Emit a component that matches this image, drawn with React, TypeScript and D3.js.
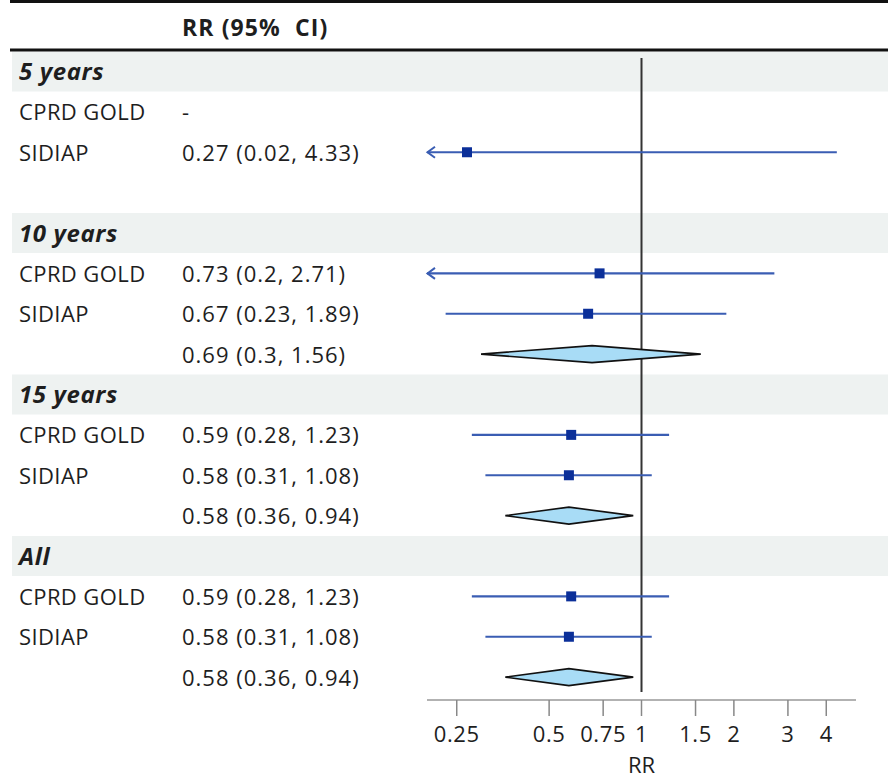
import React from "react";
import * as d3 from "d3";

const rowLabels = ["5 years", "CPRD GOLD", "SIDIAP", "", "10 years", "CPRD GOLD", "SIDIAP", "", "15 years", "CPRD GOLD", "SIDIAP", "", "All", "CPRD GOLD", "SIDIAP", ""];
const rowTypes = ["group", "study", "study", "blank", "group", "study", "study", "pooled", "group", "study", "study", "pooled", "group", "study", "study", "pooled"];
const rrText = ["", "-", "0.27 (0.02, 4.33)", "", "", "0.73 (0.2, 2.71)", "0.67 (0.23, 1.89)", "0.69 (0.3, 1.56)", "", "0.59 (0.28, 1.23)", "0.58 (0.31, 1.08)", "0.58 (0.36, 0.94)", "", "0.59 (0.28, 1.23)", "0.58 (0.31, 1.08)", "0.58 (0.36, 0.94)"];
const est = [NaN, NaN, 0.27, NaN, NaN, 0.73, 0.67, 0.69, NaN, 0.59, 0.58, 0.58, NaN, 0.59, 0.58, 0.58];
const lower = [NaN, NaN, 0.02, NaN, NaN, 0.2, 0.23, 0.3, NaN, 0.28, 0.31, 0.36, NaN, 0.28, 0.31, 0.36];
const upper = [NaN, NaN, 4.33, NaN, NaN, 2.71, 1.89, 1.56, NaN, 1.23, 1.08, 0.94, NaN, 1.23, 1.08, 0.94];
const tickValues = [0.25, 0.5, 0.75, 1, 1.5, 2, 3, 4];
const tickLabels = ["0.25", "0.5", "0.75", "1", "1.5", "2", "3", "4"];
const axisDomain = [0.2, 5];

const W = 888;
const H = 780;
const FONT = "'Open Sans', 'DejaVu Sans', sans-serif";

export default function App() {
  const x = d3.scaleLog().domain(axisDomain).range([427, 856]);
  const y = d3.scaleLinear().domain([0, 15]).range([71.5, 71.5 + 15 * 40.375]);
  const axisY = 700;
  const refX = x(1);
  const halfRow = 20;
  const textColor = "#1e1e1e";
  const lineBlue = "#3a5db3";
  const boxBlue = "#0b2f99";

  const diamond = d3.line<[number, number]>();

  return (
    <svg width={W} height={H} style={{ position: "absolute", left: 0, top: 0, background: "#fff" }} fontFamily={FONT}>
      {rowTypes.map((t, i) =>
        t === "group" ? (
          <rect key={"b" + i} x={12} y={y(i) - halfRow} width={W - 12} height={halfRow * 2} fill="#eef2f1" />
        ) : null
      )}
      <line x1={10} x2={W} y1={1.5} y2={1.5} stroke="#111" strokeWidth={3} />
      <line x1={10} x2={W} y1={50} y2={50} stroke="#111" strokeWidth={3} />
      <text x={182} y={36} fontSize={23} fontWeight="bold" fill={textColor} letterSpacing={1.1} style={{ whiteSpace: "pre" }}>
        {"RR (95%  CI)"}
      </text>

      <line x1={refX} x2={refX} y1={58} y2={692} stroke="#333" strokeWidth={2} />

      {rowLabels.map((lab, i) => {
        const cy = y(i);
        if (rowTypes[i] === "group") {
          return (
            <text key={"g" + i} x={19} y={cy + 8.5} fontSize={24} fontWeight="bold" fontStyle="italic" fill={textColor} letterSpacing={0.6}>
              {lab}
            </text>
          );
        }
        return (
          <g key={"r" + i}>
            {lab ? (
              <text x={19} y={cy + 8.5} fontSize={22} fill={textColor} letterSpacing={0.4}>
                {lab}
              </text>
            ) : null}
            {rrText[i] ? (
              <text x={182} y={cy + 8.5} fontSize={22} fill={textColor} letterSpacing={1.0}>
                {rrText[i]}
              </text>
            ) : null}
          </g>
        );
      })}

      {rowTypes.map((t, i) => {
        if (isNaN(est[i])) return null;
        const cy = y(i);
        const lo = Math.max(lower[i], axisDomain[0]);
        const hi = Math.min(upper[i], axisDomain[1]);
        const xl = x(lo);
        const xh = x(hi);
        const xe = x(est[i]);
        if (t === "pooled") {
          const pts: [number, number][] = [
            [x(lower[i]), cy],
            [xe, cy - 8.5],
            [x(upper[i]), cy],
            [xe, cy + 8.5],
            [x(lower[i]), cy],
          ];
          return <path key={"d" + i} d={diamond(pts) + "Z"} fill="#a8dcf6" stroke="#111" strokeWidth={1.6} strokeLinejoin="miter" />;
        }
        const arrowLeft = lower[i] <= axisDomain[0];
        return (
          <g key={"m" + i}>
            <line x1={xl} x2={xh} y1={cy} y2={cy} stroke={lineBlue} strokeWidth={2.2} />
            {arrowLeft ? (
              <path d={`M${xl + 8},${cy - 5.5} L${xl + 0.5},${cy} L${xl + 8},${cy + 5.5}`} fill="none" stroke={lineBlue} strokeWidth={2} />
            ) : null}
            <rect x={xe - 5} y={cy - 5} width={10} height={10} fill={boxBlue} />
          </g>
        );
      })}

      <line x1={x(axisDomain[0])} x2={x(axisDomain[1])} y1={axisY} y2={axisY} stroke="#999" strokeWidth={1.5} />
      {tickValues.map((v, i) => (
        <g key={"t" + i}>
          <line x1={x(v)} x2={x(v)} y1={axisY} y2={axisY + 16} stroke="#888" strokeWidth={1.5} />
          <text x={x(v)} y={742} fontSize={22} textAnchor="middle" fill={textColor} letterSpacing={0.6}>
            {tickLabels[i]}
          </text>
        </g>
      ))}
      <text x={refX} y={773} fontSize={22} textAnchor="middle" fill={textColor}>
        RR
      </text>
    </svg>
  );
}
